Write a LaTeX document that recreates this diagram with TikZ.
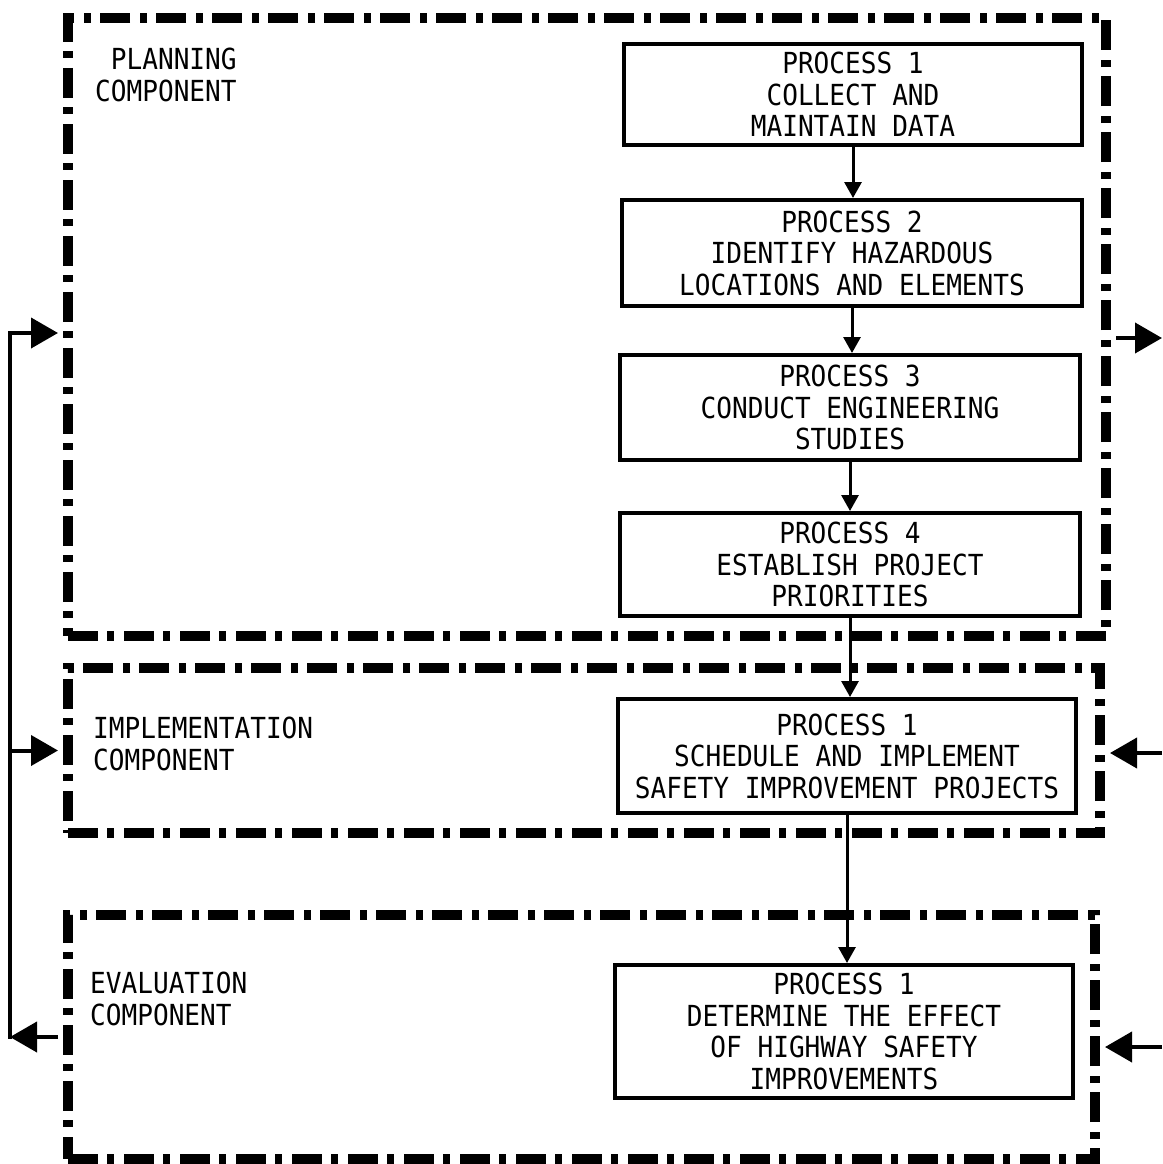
\documentclass[tikz,border=0pt]{standalone}
\usepackage{fontspec}
\setmainfont{DejaVu Sans Mono}[FakeStretch=0.9]
\usetikzlibrary{arrows.meta}
\begin{document}
\begin{tikzpicture}[x=1pt,y=-1pt,
  compbox/.style={draw, line width=10pt, dash pattern=on 30pt off 9pt on 7pt off 10pt, inner sep=0pt, line join=miter},
  procbox/.style={draw, line width=4pt, align=center, inner sep=0pt, font=\fontsize{29}{31.5}\selectfont},
  lbl/.style={align=left, inner sep=0pt, anchor=north west, font=\fontsize{29}{32}\selectfont},
  conn/.style={line width=4pt},
  flow/.style={line width=3pt, -{Triangle[length=16pt,width=17pt]}},
  bigarr/.style={line width=4pt, -{Triangle[length=27pt,width=30pt]}}]
\useasboundingbox (0,0) rectangle (1162,1164);
\fill[white] (0,0) rectangle (1162,1164);

% component boxes
\node[compbox, minimum width=1038pt, minimum height=618pt] (plan) at (587,327) {};
\node[compbox, minimum width=1032pt, minimum height=165pt] (impl) at (584,750.5) {};
\node[compbox, minimum width=1027pt, minimum height=244pt] (eval) at (581.5,1037) {};

% component labels
\node[lbl] (planlbl) at (95,48) {\phantom{C}PLANNING\\COMPONENT};
\node[lbl] (impllbl) at (93,717) {IMPLEMENTATION\\COMPONENT};
\node[lbl] (evallbl) at (90,972) {EVALUATION\\COMPONENT};

% process boxes
\node[procbox, minimum width=458pt, minimum height=101pt] (p1) at (853,94.5) {PROCESS 1\\COLLECT AND\\MAINTAIN DATA};
\node[procbox, minimum width=460pt, minimum height=106pt] (p2) at (852,253) {PROCESS 2\\IDENTIFY HAZARDOUS\\LOCATIONS AND ELEMENTS};
\node[procbox, minimum width=460pt, minimum height=105pt] (p3) at (850,407.5) {PROCESS 3\\CONDUCT ENGINEERING\\STUDIES};
\node[procbox, minimum width=460pt, minimum height=103pt] (p4) at (850,564.5) {PROCESS 4\\ESTABLISH PROJECT\\PRIORITIES};
\node[procbox, minimum width=458pt, minimum height=114pt] (ip) at (847,756) {PROCESS 1\\SCHEDULE AND IMPLEMENT\\SAFETY IMPROVEMENT PROJECTS};
\node[procbox, minimum width=458pt, minimum height=133pt] (ep) at (844,1031.5) {PROCESS 1\\DETERMINE THE EFFECT\\OF HIGHWAY SAFETY\\IMPROVEMENTS};

% flow arrows
\draw[flow] (p1.south) -- (p1.south |- p2.north);
\draw[flow] (p2.south) -- (p2.south |- p3.north);
\draw[flow] (p3.south) -- (p3.south |- p4.north);
\draw[flow] (p4.south) -- (p4.south |- ip.north);
\draw[flow] (ip.south) -- (ip.south |- ep.north);

% feedback loop on the left
\coordinate (fbt) at (10,333);
\coordinate (fbb) at (10,1037);
\draw[conn, line cap=rect] (fbb) -- (fbt);
\draw[bigarr] (fbt) -- ([xshift=-5pt]fbt -| plan.west);
\draw[bigarr] (fbb |- impl.west) -- ([xshift=-5pt]impl.west);
\draw[bigarr] ([xshift=-5pt]eval.west) -- (fbb);

% right side arrows
\coordinate (pout) at (1162,338);
\coordinate (iin) at (1162,753);
\coordinate (ein) at (1162,1047);
\draw[bigarr] ([xshift=5pt]pout -| plan.east) -- (pout);
\draw[bigarr] (iin) -- ([xshift=5pt]iin -| impl.east);
\draw[bigarr] (ein) -- ([xshift=5pt]ein -| eval.east);
\end{tikzpicture}
\end{document}
